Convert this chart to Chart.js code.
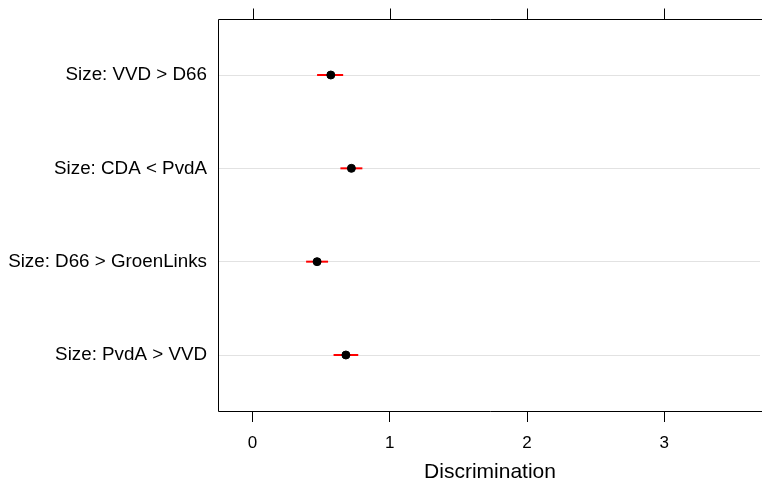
<!DOCTYPE html>
<html>
<head>
<meta charset="utf-8">
<script src="https://cdn.jsdelivr.net/npm/chart.js@4.4.0/dist/chart.umd.min.js"></script>
<style>
  html, body { margin: 0; padding: 0; background: #fff; overflow: hidden; }
  #wrap { width: 762px; height: 482px; }
</style>
</head>
<body>
<div id="wrap"><canvas id="myChart" width="762" height="482"></canvas></div>
<script>
// rows from top to bottom
const labels = ["Size: VVD > D66", "Size: CDA < PvdA", "Size: D66 > GroenLinks", "Size: PvdA > VVD"];
const estimate = [0.57, 0.72, 0.47, 0.68];
const lower = [0.47, 0.64, 0.39, 0.59];
const upper = [0.66, 0.80, 0.55, 0.77];
const xTicks = [0, 1, 2, 3];

const FONT = "'Liberation Sans', Arial, sans-serif";

// one small line dataset per interval
const barSets = labels.map((lab, i) => ({
  type: "line",
  data: [{ x: lower[i], y: i + 1 }, { x: upper[i], y: i + 1 }],
  borderColor: "#ff0000",
  borderWidth: 2,
  pointRadius: 0,
  fill: false,
  order: 1,
}));

// scales own paddings push the plot box around, drop them
const noPad = (s) => { s.paddingLeft = 0; s.paddingRight = 0; s.paddingTop = 0; s.paddingBottom = 0; };

// lattice style box (left, top, bottom) plus the tick marks on top
const framePlugin = {
  id: "frame",
  beforeDatasetsDraw(chart) {
    const { ctx, chartArea: a } = chart;
    const xs = chart.scales.x;
    const l = Math.round(a.left) + 0.5, t = Math.round(a.top) + 0.5, b = Math.round(a.bottom) + 0.5;
    ctx.save();
    ctx.strokeStyle = "#000";
    ctx.lineWidth = 1;
    ctx.beginPath();
    ctx.moveTo(l, t);
    ctx.lineTo(chart.width, t);
    ctx.stroke();
    ctx.beginPath();
    ctx.moveTo(l, b);
    ctx.lineTo(chart.width, b);
    ctx.stroke();
    ctx.beginPath();
    ctx.moveTo(l, t);
    ctx.lineTo(l, b);
    ctx.stroke();
    for (const v of xTicks) {
      const px = Math.round(xs.getPixelForValue(v)) + 0.5;
      ctx.beginPath();
      ctx.moveTo(px, t);
      ctx.lineTo(px, t - 11);
      ctx.stroke();
    }
    ctx.restore();
  },
  afterDraw(chart) {
    // the plot box is open on the right side
    const { ctx, chartArea: a } = chart;
    ctx.save();
    ctx.fillStyle = "#fff";
    ctx.fillRect(chart.width - 2, Math.round(a.top) + 1, 2, Math.round(a.bottom) - Math.round(a.top) - 1);
    ctx.restore();
  },
};

const ctx = document.getElementById("myChart").getContext("2d");
const chart = new Chart(ctx, {
  type: "scatter",
  data: {
    datasets: [
      {
        data: estimate.map((v, i) => ({ x: v, y: i + 1 })),
        backgroundColor: "#000",
        borderColor: "#000",
        pointRadius: 4,
        pointHoverRadius: 4,
        order: 0,
      },
      ...barSets,
    ],
  },
  plugins: [framePlugin],
  options: {
    responsive: false,
    animation: false,
    events: [],
    layout: { padding: { top: 19, left: 0, right: 0, bottom: 0 }, autoPadding: false },
    plugins: { legend: { display: false }, tooltip: { enabled: false } },
    scales: {
      x: {
        type: "linear",
        position: "bottom",
        min: -0.252,
        max: 3.712,
        afterBuildTicks: (s) => { s.ticks = xTicks.map((v) => ({ value: v })); },
        afterFit: (s) => { s.height = 71; noPad(s); },
        grid: { drawOnChartArea: false, tickLength: 11, tickColor: "#000", tickWidth: 1 },
        border: { display: false },
        ticks: { color: "#000", font: { family: FONT, size: 17 }, padding: 11, maxRotation: 0 },
        title: {
          display: true,
          text: "Discrimination",
          color: "#000",
          font: { family: FONT, size: 21, lineHeight: 1 },
          padding: { top: 0, bottom: -1 },
        },
      },
      y: {
        type: "linear",
        reverse: true,
        min: 0.4,
        max: 4.6,
        afterBuildTicks: (s) => { s.ticks = labels.map((l, i) => ({ value: i + 1 })); },
        afterFit: (s) => { s.width = 218; noPad(s); },
        grid: { color: "#e2e2e2", lineWidth: 1, drawTicks: false, tickLength: 0 },
        border: { display: false },
        ticks: {
          color: "#000",
          font: { family: FONT, size: 18.8 },
          padding: 11,
          callback: (v) => labels[Math.round(v) - 1],
        },
      },
    },
  },
});
</script>
</body>
</html>
